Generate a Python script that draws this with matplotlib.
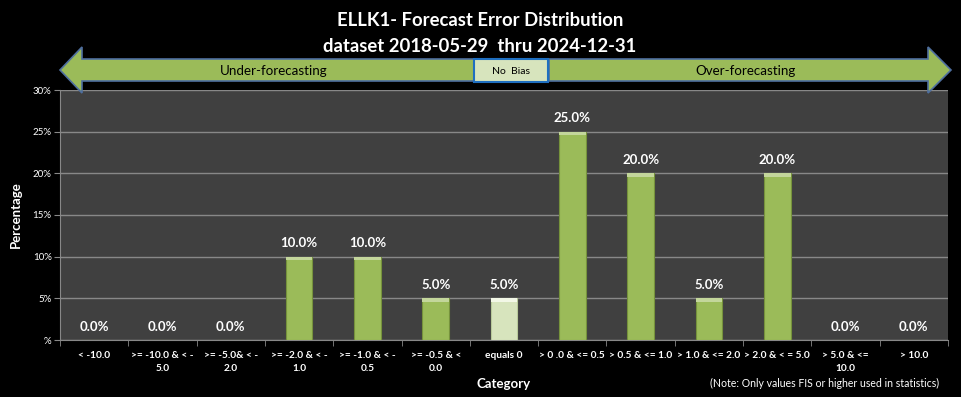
import matplotlib.pyplot as plt
from matplotlib.patches import Polygon, Rectangle

categories = ['< -10.0', '>= -10.0 & < -\n5.0', '>= -5.0& < -\n2.0', '>= -2.0 & < -\n1.0',
              '>= -1.0 & < -\n0.5', '>= -0.5 & <\n0.0', 'equals 0', '> 0 .0 & <= 0.5',
              '> 0.5 & <= 1.0', '> 1.0 & <= 2.0', '> 2.0 & < = 5.0', '> 5.0 & <=\n10.0', '> 10.0']
values = [0.0, 0.0, 0.0, 10.0, 10.0, 5.0, 5.0, 25.0, 20.0, 5.0, 20.0, 0.0, 0.0]
yticks = [0, 5, 10, 15, 20, 25, 30]
ytick_labels = ['%', '5%', '10%', '15%', '20%', '25%', '30%']

plt.rcParams['font.family'] = ['Lato', 'DejaVu Sans']

W, H = 961, 397
fig = plt.figure(figsize=(W / 100, H / 100), dpi=100, facecolor='black')
ax = fig.add_axes([60 / W, 57 / H, 888 / W, 250 / H])
ax.set_facecolor('#404040')

x = list(range(len(categories)))
colors = ['#D7E4BD' if c == 'equals 0' else '#9BBB59' for c in categories]
edges = ['#B8C99A' if c == 'equals 0' else '#76923C' for c in categories]
ax.bar(x, values, width=0.39, color=colors, edgecolor=edges, linewidth=0.8, zorder=3)
# light bevel on top of bars
for xi, v, c in zip(x, values, categories):
    if v > 0:
        ax.bar(xi, 0.4, bottom=v - 0.4, width=0.39,
               color='#F2F7E6' if c == 'equals 0' else '#C3D69B', linewidth=0, zorder=4)
    ax.text(xi, v + 1.6, f'{v:.1f}%', ha='center', va='center', color='white',
            fontsize=9.5, fontweight='bold', zorder=5)

ax.set_xlim(-0.5, len(categories) - 0.5)
ax.set_ylim(0, 30)
ax.set_yticks(yticks)
ax.set_yticklabels(ytick_labels, color='white', fontsize=7)
ax.yaxis.grid(True, color='#888888', linewidth=1, zorder=0)
ax.set_axisbelow(True)
ax.set_xticks(x)
ax.set_xticklabels(categories, color='white', fontsize=7.3, fontweight='bold', linespacing=1.5)
ax.set_xticks([i - 0.5 for i in range(len(categories) + 1)], minor=True)
ax.tick_params(axis='x', which='major', length=0, pad=8)
ax.tick_params(axis='x', which='minor', length=4, color='#888888')
ax.tick_params(axis='y', length=4, color='#888888', pad=2)
for s in ['top', 'right']:
    ax.spines[s].set_visible(False)
for s in ['left', 'bottom']:
    ax.spines[s].set_color('#888888')

ax.set_ylabel('Percentage', color='white', fontsize=9.5, fontweight='bold', labelpad=8)
ax.set_xlabel('Category', color='white', fontsize=9.5, fontweight='bold', labelpad=4)

fig.text(480 / W, 1 - 20 / H, 'ELLK1- Forecast Error Distribution', ha='center', va='center',
         color='white', fontsize=13.3, fontweight='bold')
fig.text(480 / W, 1 - 47 / H, 'dataset 2018-05-29  thru 2024-12-31', ha='center', va='center',
         color='white', fontsize=13.3, fontweight='bold')
fig.text(825 / W, 1 - 383 / H, '(Note: Only values FIS or higher used in statistics)',
         ha='center', va='center', color='white', fontsize=7.6)


def px(pts):
    return [(a / W, 1 - b / H) for a, b in pts]


left_arrow = px([(60, 70), (82, 47), (82, 59), (474, 59), (474, 81), (82, 81), (82, 93)])
right_arrow = px([(951, 70), (928, 47), (928, 59), (549, 59), (549, 81), (928, 81), (928, 93)])
for pts in (left_arrow, right_arrow):
    fig.patches.append(Polygon(pts, closed=True, facecolor='#9BBB59', edgecolor='#4F6F9F',
                               linewidth=1.2, transform=fig.transFigure))
fig.patches.append(Rectangle((474 / W, 1 - 82 / H), 74 / W, 23 / H, facecolor='#D7E4BD',
                             edgecolor='#1F6FC0', linewidth=1.5, transform=fig.transFigure))
fig.text(274 / W, 1 - 71 / H, 'Under-forecasting', ha='center', va='center', color='black', fontsize=9.6)
fig.text(511 / W, 1 - 71 / H, 'No  Bias', ha='center', va='center', color='black', fontsize=7.5)
fig.text(745 / W, 1 - 71 / H, 'Over-forecasting', ha='center', va='center', color='black', fontsize=9.6)

fig.savefig('out.png', dpi=100, facecolor='black')
